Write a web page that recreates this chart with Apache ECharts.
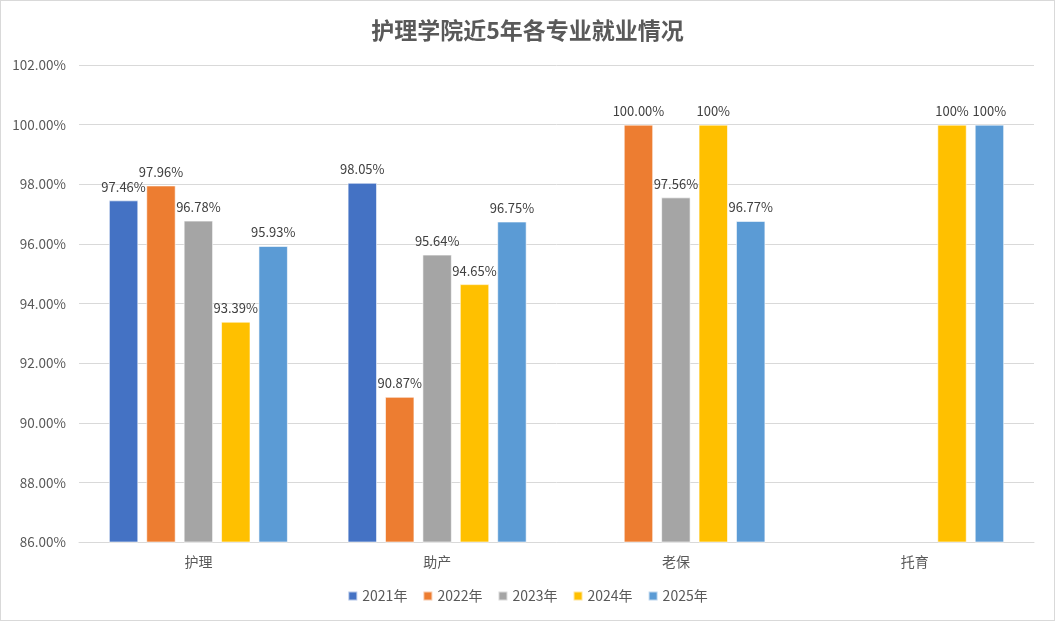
<!DOCTYPE html>
<html>
<head>
<meta charset="utf-8">
<script src="https://cdn.jsdelivr.net/npm/echarts@6/dist/echarts.min.js"></script>
<style>
  html, body { margin: 0; padding: 0; background: #fff; }
  #chart { width: 1055px; height: 621px; box-sizing: border-box; border: 1px solid #d9d9d9; }
</style>
</head>
<body>
<div id="chart"></div>
<script>
// 专业
const categories = ['护理', '助产', '老保', '托育'];
const years = ['2021年', '2022年', '2023年', '2024年', '2025年'];

// 各年就业率 (%), null 表示无数据
const y2021 = [97.46, 98.05, null, null];
const y2022 = [97.96, 90.87, 100.00, null];
const y2023 = [96.78, 95.64, 97.56, null];
const y2024 = [93.39, 94.65, 100, 100];
const y2025 = [95.93, 96.75, 96.77, 100];

// 数据标签 (原图中格式不统一)
const lab2021 = ['97.46%', '98.05%', '', ''];
const lab2022 = ['97.96%', '90.87%', '100.00%', ''];
const lab2023 = ['96.78%', '95.64%', '97.56%', ''];
const lab2024 = ['93.39%', '94.65%', '100%', '100%'];
const lab2025 = ['95.93%', '96.75%', '96.77%', '100%'];

const colors = ['#4472C4', '#ED7D31', '#A5A5A5', '#FFC000', '#5B9BD5'];
const allData = [y2021, y2022, y2023, y2024, y2025];
const allLabels = [lab2021, lab2022, lab2023, lab2024, lab2025];

const font = '"Noto Sans CJK SC", "Noto Sans", sans-serif';

let myChart = echarts.init(document.getElementById('chart'));

let series = allData.map((d, i) => {
  return {
    name: years[i],
    type: 'bar',
    data: d,
    barGap: '27%',
    barCategoryGap: '25%',
    itemStyle: { color: colors[i], borderColor: 'rgba(255,255,255,0.6)', borderWidth: 1 },
    label: {
      show: true,
      position: 'top',
      distance: 7,
      color: '#404040',
      fontSize: 13,
      fontFamily: font,
      formatter: p => allLabels[i][p.dataIndex]
    }
  };
});

let option = {
  animation: false,
  title: {
    text: '护理学院近5年各专业就业情况',
    left: 'center',
    top: 13,
    textStyle: { fontSize: 23, fontWeight: 'bold', color: '#595959', fontFamily: font }
  },
  legend: {
    bottom: 12,
    left: 'center',
    data: years,
    itemWidth: 9,
    itemHeight: 9,
    itemGap: 15,
    icon: 'rect',
    textStyle: { color: '#595959', fontSize: 14, fontFamily: font }
  },
  grid: { left: 78, right: 20, top: 64, bottom: 78 },
  xAxis: {
    type: 'category',
    data: categories,
    axisTick: { show: false },
    axisLine: { lineStyle: { color: '#d9d9d9' } },
    axisLabel: { color: '#595959', fontSize: 14, margin: 13, fontFamily: font }
  },
  yAxis: {
    type: 'value',
    min: 86,
    max: 102,
    interval: 2,
    axisLine: { show: false },
    axisTick: { show: false },
    splitLine: { lineStyle: { color: '#d9d9d9' } },
    axisLabel: {
      color: '#595959',
      fontSize: 13.5,
      margin: 13,
      fontFamily: font,
      formatter: v => v.toFixed(2) + '%'
    }
  },
  series: series
};

myChart.setOption(option);
</script>
</body>
</html>
